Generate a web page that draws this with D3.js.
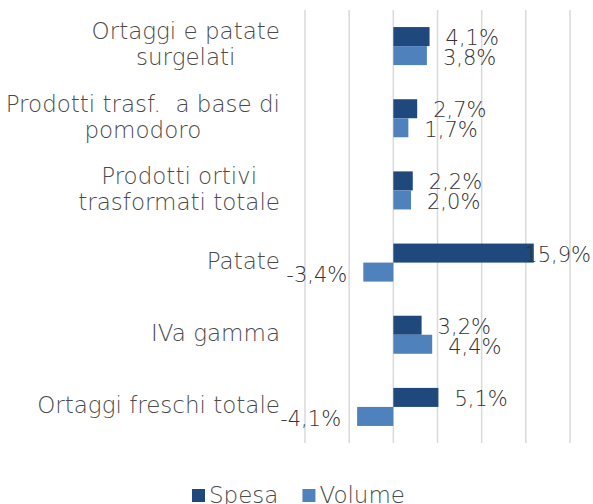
<!DOCTYPE html>
<html>
<head>
<meta charset="utf-8">
<script src="https://cdn.jsdelivr.net/npm/d3@7"></script>
<style>
  html, body { margin: 0; padding: 0; background: #fff; }
  svg { display: block; font-family: "DejaVu Sans", sans-serif; }
  .thin { font-weight: 200; white-space: pre; }
</style>
</head>
<body>
<svg id="chart" width="593" height="504"></svg>
<script>
// categorie (dall'alto verso il basso), una riga per ogni a capo
const categories = [
  ['Ortaggi e patate', 'surgelati'],
  ['Prodotti trasf.  a base di', 'pomodoro'],
  ['Prodotti ortivi', 'trasformati totale'],
  ['Patate'],
  ['IVa gamma'],
  ['Ortaggi freschi totale']
];
const series = ['Spesa', 'Volume'];
const spesa  = [4.1, 2.7, 2.2, 15.9, 3.2, 5.1];
const volume = [3.8, 1.7, 2.0, -3.4, 4.4, -4.1];
const gridTicks = [-10, -5, 0, 5, 10, 15, 20];

const colors = { Spesa: '#1f497d', Volume: '#4f81bd' };

const W = 593, H = 504;
const svg = d3.select('#chart');

// formato italiano: virgola decimale, trattino semplice
const fmt = v => d3.format('.1f')(v).replace('.', ',').replace('\u2212', '-') + '%';

// dati per barre
const rows = categories.map((c, i) => ({
  key: c.join(' '),
  lines: c,
  values: [
    { s: 'Spesa', v: spesa[i] },
    { s: 'Volume', v: volume[i] }
  ]
}));

// scale
const x = d3.scaleLinear().domain([-10, 20]).range([305, 570]);
const y0 = d3.scaleBand()
  .domain(rows.map(d => d.key))
  .range([10, 443])
  .paddingInner(0.473)
  .paddingOuter(0.2365);
const y1 = d3.scaleBand().domain(series).range([0, y0.bandwidth()]);

// griglia verticale
svg.append('g').attr('class', 'grid')
  .selectAll('line')
  .data(gridTicks)
  .join('line')
  .attr('x1', d => x(d)).attr('x2', d => x(d))
  .attr('y1', 10).attr('y2', 443)
  .attr('stroke', '#d9d9d9')
  .attr('stroke-width', 1.5);

// barre
const groups = svg.append('g').attr('class', 'bars')
  .selectAll('g')
  .data(rows)
  .join('g')
  .attr('transform', d => `translate(0,${y0(d.key)})`);

groups.selectAll('rect')
  .data(d => d.values)
  .join('rect')
  .attr('x', d => x(Math.min(0, d.v)))
  .attr('width', d => Math.abs(x(d.v) - x(0)))
  .attr('y', d => y1(d.s))
  .attr('height', y1.bandwidth())
  .attr('fill', d => colors[d.s]);

// etichette dati
groups.selectAll('text')
  .data(d => d.values)
  .join('text')
  .attr('class', 'thin')
  .attr('y', d => y1(d.s) + y1.bandwidth() / 2 + (d.s === 'Spesa' ? 1 : 2))
  .attr('dy', '0.36em')
  .attr('font-size', 21)
  .attr('fill', '#333')
  .text(d => fmt(d.v))
  .each(function(d) {
    const t = d3.select(this);
    const w = this.getComputedTextLength();
    if (d.v >= 0) {
      let xs = x(d.v) + 16;
      if (xs + w > W - 2) xs = W - 2 - w; // resta dentro il grafico
      t.attr('x', xs).attr('text-anchor', 'start');
    } else {
      t.attr('x', x(d.v) - 16).attr('text-anchor', 'end');
    }
  });

// etichette categorie: blocco allineato a destra, righe centrate
const labelRight = 280;
const lineH = 26;
const catG = svg.append('g').attr('class', 'cats');
rows.forEach(r => {
  const t = catG.append('text')
    .attr('class', 'thin')
    .attr('font-size', 23)
    .attr('fill', '#4a4a4a')
    .attr('text-anchor', 'middle');
  const cy = y0(r.key) + y0.bandwidth() / 2 - 2;
  const n = r.lines.length;
  r.lines.forEach((ln, j) => {
    t.append('tspan')
      .attr('y', cy + (j - (n - 1) / 2) * lineH)
      .attr('dy', '0.36em')
      .text(ln);
  });
  const maxW = d3.max(t.selectAll('tspan').nodes(), n => n.getComputedTextLength());
  t.selectAll('tspan').attr('x', labelRight - maxW / 2);
});

// legenda
const legend = svg.append('g').attr('class', 'legend');
let lx = 192;
series.forEach(s => {
  legend.append('rect')
    .attr('x', lx).attr('y', 489)
    .attr('width', 13).attr('height', 13)
    .attr('fill', colors[s]);
  const t = legend.append('text')
    .attr('class', 'thin')
    .attr('x', lx + 17).attr('y', 503)
    .attr('font-size', 23)
    .attr('fill', '#4a4a4a')
    .text(s);
  lx += 17 + t.node().getComputedTextLength() + 24;
});
</script>
</body>
</html>
